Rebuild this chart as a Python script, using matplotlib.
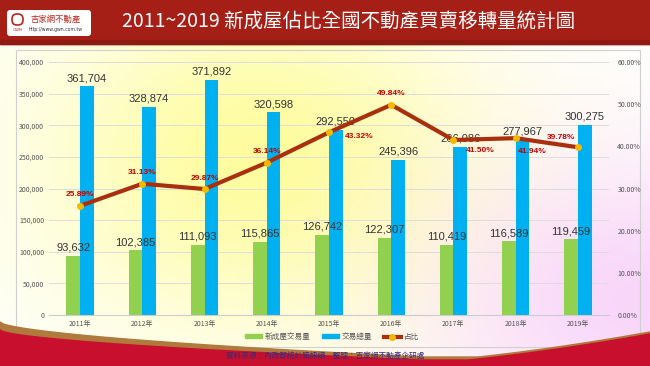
import numpy as np
import matplotlib
matplotlib.use('Agg')
import matplotlib.pyplot as plt
from matplotlib.patches import Rectangle, FancyBboxPatch
from matplotlib.lines import Line2D
from matplotlib.ticker import FuncFormatter

plt.rcParams['font.family'] = ['Noto Sans CJK TC', 'DejaVu Sans']

years = ['2011年', '2012年', '2013年', '2014年', '2015年', '2016年', '2017年', '2018年', '2019年']
new_house = [93632, 102385, 111093, 115865, 126742, 122307, 110419, 116589, 119459]
total = [361704, 328874, 371892, 320598, 292550, 245396, 266086, 277967, 300275]
share = [25.89, 31.13, 29.87, 36.14, 43.32, 49.84, 41.50, 41.94, 39.78]

W, H = 650, 366
fig = plt.figure(figsize=(6.5, 3.66), dpi=100)

# background layer in pixel coords
bg = fig.add_axes([0, 0, 1, 1])
bg.set_xlim(0, W)
bg.set_ylim(H, 0)
bg.axis('off')
yy, xx = np.mgrid[0:H, 0:W]
img = np.ones((H, W, 3))
g1 = np.exp(-(((xx - 260) / 220.0) ** 2 + ((yy - 160) / 170.0) ** 2))
g2 = np.exp(-(((xx - 640) / 200.0) ** 2 + ((yy - 300) / 140.0) ** 2))
yellow = np.array([1.0, 0.99, 0.55])
pink = np.array([0.97, 0.80, 0.98])
for c in range(3):
    img[..., c] = img[..., c] * (1 - 0.85 * g1) + yellow[c] * 0.85 * g1
    img[..., c] = img[..., c] * (1 - 0.8 * g2) + pink[c] * 0.8 * g2
bg.imshow(img, extent=[0, W, H, 0], aspect='auto', zorder=0)

# header
bg.add_patch(Rectangle((0, 0), W, 44, color='#A51F16', zorder=2))
bg.add_patch(Rectangle((0, 40), W, 4, color='#8E1A12', zorder=2))
bg.add_patch(FancyBboxPatch((7, 10), 84, 26, boxstyle='round,pad=0,rounding_size=3',
                            fc='white', ec='none', zorder=3))
bg.add_patch(FancyBboxPatch((12, 14), 11, 11, boxstyle='round,pad=0,rounding_size=5',
                            fc='none', ec='#B5261C', lw=1.2, zorder=4))
bg.text(17.5, 30, 'GWN', color='#B5261C', fontsize=2.8, ha='center', va='center', zorder=4,
        family='DejaVu Sans')
bg.text(56, 19, '吉家網不動產', color='#B5261C', fontsize=6, ha='center', va='center', zorder=4)
bg.text(56, 30, 'http://www.gwn.com.tw', color='#333333', fontsize=3.3, ha='center', va='center', zorder=4,
        family='DejaVu Sans')
bg.text(349, 22, '2011~2019 新成屋佔比全國不動產買賣移轉量統計圖', color='white',
        fontsize=14, ha='center', va='center', zorder=4)

# chart frame
bg.add_patch(Rectangle((16, 50), 624, 297, fc='none', ec='#d0d0d0', lw=0.8, zorder=2))

# bottom decoration
xs = np.linspace(0, W, 200)
brown_top = 322 + (357 - 322) * np.clip(xs / 420, 0, 1) ** 0.6
red_top = 330 + (360 - 330) * np.clip(xs / 420, 0, 1) ** 0.6
right_rise = 366 - 32 * np.clip((xs - 380) / 270, 0, 1) ** 1.5
bg.fill_between(xs, np.minimum(brown_top, right_rise - 2), H, color='#B07A3C', zorder=2)
bg.fill_between(xs, np.minimum(red_top, right_rise), H, color='#C8102E', zorder=2)
bg.text(325, 356, '資料來源：內政部統計資訊網　整理：吉家網不動產企研處', color='#3A2A7A',
        fontsize=5.5, ha='center', va='center', zorder=4)

# main chart
ax = fig.add_axes([49 / W, 1 - 315 / H, 560 / W, 253 / H])
ax.patch.set_alpha(0)
x = np.arange(len(years))
bw = 0.22
ax.bar(x - bw / 2, new_house, bw, color='#92D050', zorder=2)
ax.bar(x + bw / 2, total, bw, color='#00B0F0', zorder=2)
ax.set_xlim(-0.5, len(years) - 0.5)
ax.set_ylim(0, 400000)
ax.set_yticks(np.arange(0, 400001, 50000))
ax.yaxis.set_major_formatter(FuncFormatter(lambda v, p: f'{int(v):,}'))
ax.set_xticks(x)
ax.set_xticklabels(years)
ax.tick_params(axis='both', length=0, labelsize=5, colors='#555555')
ax.grid(axis='y', color='#dddddd', lw=0.7, zorder=0)
for s in ax.spines.values():
    s.set_visible(False)
ax.spines['bottom'].set_visible(True)
ax.spines['bottom'].set_color('#cccccc')

for i in range(len(years)):
    ax.text(x[i] - bw / 2, new_house[i] + 5000, f'{new_house[i]:,}', ha='center', va='bottom',
            fontsize=8, color='#333333', family='Liberation Sans', zorder=5)
    ax.text(x[i] + bw / 2, total[i] + 5000, f'{total[i]:,}', ha='center', va='bottom',
            fontsize=8, color='#333333', family='Liberation Sans', zorder=5)

ax2 = ax.twinx()
ax2.set_ylim(0, 60)
ax2.set_yticks(np.arange(0, 61, 10))
ax2.yaxis.set_major_formatter(FuncFormatter(lambda v, p: f'{v:.2f}%'))
ax2.tick_params(axis='y', length=0, labelsize=5, colors='#555555', pad=6)
for s in ax2.spines.values():
    s.set_visible(False)
ax2.plot(x, share, color='#A8300E', lw=3, zorder=6)
ax2.plot(x, share, 'o', color='#F5B800', ms=4, zorder=7)

offs = [(0, 11), (0, 11), (0, 11), (0, 11), (30, -4), (0, 11), (27, -10), (17, -13), (-17, 10)]
for i in range(len(years)):
    ax2.annotate(f'{share[i]:.2f}%', (x[i], share[i]), xytext=offs[i], textcoords='offset pixels',
                 ha='center', va='center', fontsize=6, color='#C00000', fontweight='bold',
                 family='Liberation Sans', zorder=8)

handles = [Rectangle((0, 0), 1, 1, color='#92D050'),
           Rectangle((0, 0), 1, 1, color='#00B0F0'),
           Line2D([0], [0], color='#A8300E', lw=3, marker='o', mfc='#F5B800', mec='#F5B800', ms=4)]
fig.legend(handles, ['新成屋交易量', '交易總量', '占比'], loc='center', bbox_to_anchor=(332 / W, 1 - 337 / H),
           ncol=3, frameon=False, fontsize=5.5, handlelength=2.2, handleheight=0.5, columnspacing=1.5,
           handletextpad=0.4, labelcolor='#555555')

fig.savefig('out.png', dpi=100)
